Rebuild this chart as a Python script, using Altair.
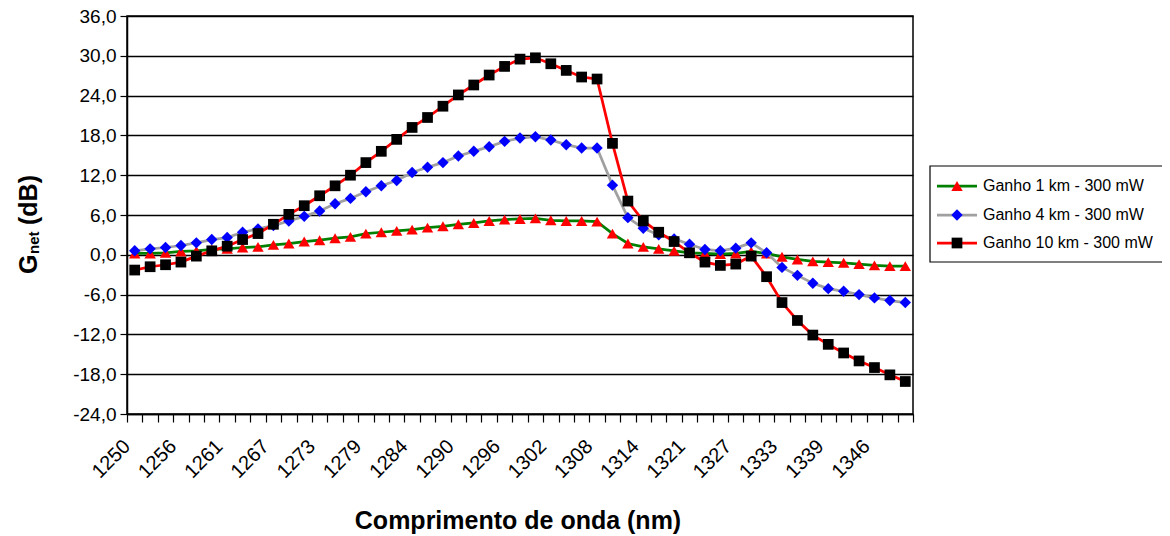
import altair as alt
import pandas as pd

# ---------------- data ----------------
tick_labels = ["1250", "1256", "1261", "1267", "1273", "1279", "1284", "1290", "1296",
               "1302", "1308", "1314", "1321", "1327", "1333", "1339", "1346"]
n_categories = 51

gain_1km = [0.2, 0.2, 0.3, 0.5, 0.6, 0.8, 0.9, 1.1, 1.2, 1.5,
            1.7, 2.0, 2.2, 2.5, 2.7, 3.2, 3.4, 3.6, 3.8, 4.1,
            4.3, 4.6, 4.8, 5.1, 5.3, 5.4, 5.5, 5.2, 5.1, 5.1,
            5.0, 3.2, 1.7, 1.2, 0.9, 0.6, 0.3, 0.2, 0.1, 0.2,
            0.5, 0.2, -0.3, -0.7, -1.0, -1.1, -1.2, -1.4, -1.6, -1.7, -1.7]
gain_4km = [0.6, 0.9, 1.1, 1.4, 1.8, 2.3, 2.6, 3.4, 3.9, 4.4,
            5.1, 5.8, 6.6, 7.7, 8.5, 9.5, 10.4, 11.2, 12.4, 13.2,
            13.9, 14.9, 15.6, 16.3, 17.1, 17.6, 17.8, 17.3, 16.6, 16.1,
            16.1, 10.5, 5.6, 4.0, 3.0, 2.4, 1.6, 0.8, 0.6, 1.0,
            1.8, 0.3, -1.9, -3.1, -4.3, -5.1, -5.5, -6.0, -6.5, -6.9, -7.2]
gain_10km = [-2.3, -1.8, -1.5, -1.1, -0.2, 0.6, 1.3, 2.3, 3.2, 4.6,
             6.1, 7.4, 8.9, 10.4, 12.0, 13.9, 15.6, 17.4, 19.2, 20.7,
             22.4, 24.1, 25.6, 27.1, 28.4, 29.5, 29.7, 28.8, 27.8, 26.8,
             26.5, 16.8, 8.1, 5.1, 3.4, 2.0, 0.3, -1.1, -1.6, -1.4,
             -0.2, -3.3, -7.2, -9.9, -12.1, -13.5, -14.8, -16.0, -17.0, -18.1, -19.1]

series_names = ["Ganho 1 km - 300 mW", "Ganho 4 km - 300 mW", "Ganho 10 km - 300 mW"]
series_values = [gain_1km, gain_4km, gain_10km]
y_ticks = [-24, -18, -12, -6, 0, 6, 12, 18, 24, 30, 36]

# ---------------- style ----------------
line_colors = ["#008000", "#A0A0A0", "#FF0000"]
marker_colors = ["#FF0000", "#0000FF", "#000000"]
marker_shapes = ["triangle-up", "diamond", "square"]
marker_sizes = [130, 130, 115]
FONT = "Liberation Sans"
W, H = 786, 398

label_list = "[" + ",".join("'%s'" % t for t in tick_labels) + "]"
x_tick_values = [float(i) for i in range(n_categories + 1)] + [i + 0.5 for i in range(0, n_categories, 3)]

x_scale = alt.Scale(domain=[0, n_categories], nice=False, zero=False)
y_scale = alt.Scale(domain=[-24, 36], nice=False, zero=False)

x_axis = alt.Axis(
    values=x_tick_values,
    labelExpr="datum.value % 1 != 0 ? " + label_list + "[floor(datum.value / 3)] : ''",
    tickOpacity={"condition": {"test": "datum.value % 1 != 0", "value": 0}, "value": 1},
    labelAngle=-45, labelAlign="right", labelBaseline="middle",
    labelOffset=-8, labelPadding=21, labelOverlap=False, labelFlush=False, labelBound=False,
    tickSize=8, tickColor="black", tickWidth=1.2,
    domainColor="black", domainWidth=1.5,
    labelFont=FONT, labelFontSize=20, labelColor="black",
    grid=False, title=None,
)
y_axis = alt.Axis(
    values=y_ticks,
    labelExpr="datum.value + ',0'",
    tickSize=7, tickColor="black", tickWidth=1.2,
    domainColor="black", domainWidth=1.5,
    labelFont=FONT, labelFontSize=19, labelColor="black", labelPadding=4,
    grid=True, gridColor="black", gridWidth=1.5,
    title=None,
)

layers = []
for i, (name, vals) in enumerate(zip(series_names, series_values)):
    df = pd.DataFrame({
        "pos": [k + 0.5 for k in range(n_categories)],
        "gain": vals,
        "serie": name,
    })
    base = alt.Chart(df).encode(
        x=alt.X("pos:Q", scale=x_scale, axis=x_axis),
        y=alt.Y("gain:Q", scale=y_scale, axis=y_axis),
    )
    layers.append(base.mark_line(color=line_colors[i], strokeWidth=2.75))
    layers.append(base.mark_point(shape=marker_shapes[i], filled=True, color=marker_colors[i],
                                  size=marker_sizes[i], opacity=1, strokeWidth=0))

# ---------------- titles ----------------
one = pd.DataFrame({"t": [""]})
x_title = alt.Chart(pd.DataFrame({"t": ["Comprimento de onda (nm)"]})).mark_text(
    font=FONT, fontSize=25, fontWeight="bold", align="center", baseline="alphabetic", color="black"
).encode(x=alt.value(391), y=alt.value(513), text="t:N")

yt_g = alt.Chart(pd.DataFrame({"t": ["G"]})).mark_text(
    font=FONT, fontSize=25, fontWeight="bold", angle=270, align="left", baseline="middle", color="black"
).encode(x=alt.value(-98), y=alt.value(258), text="t:N")
yt_net = alt.Chart(pd.DataFrame({"t": ["net"]})).mark_text(
    font=FONT, fontSize=15, fontWeight="bold", angle=270, align="left", baseline="middle", color="black"
).encode(x=alt.value(-93), y=alt.value(238), text="t:N")
yt_db = alt.Chart(pd.DataFrame({"t": ["(dB)"]})).mark_text(
    font=FONT, fontSize=25, fontWeight="bold", angle=270, align="left", baseline="middle", color="black"
).encode(x=alt.value(-98), y=alt.value(209), text="t:N")

# ---------------- legend ----------------
legend_box = alt.Chart(one).mark_rect(fill="white", stroke="black", strokeWidth=1.2).encode(
    x=alt.value(803), x2=alt.value(1040), y=alt.value(150), y2=alt.value(246)
)
legend_layers = [legend_box]
row_y = [170, 199, 227]
for i, name in enumerate(series_names):
    ldf = pd.DataFrame({"label": [name]})
    legend_layers.append(alt.Chart(ldf).mark_rule(color=line_colors[i], strokeWidth=2.75).encode(
        x=alt.value(810), x2=alt.value(850), y=alt.value(row_y[i])))
    legend_layers.append(alt.Chart(ldf).mark_point(shape=marker_shapes[i], filled=True,
                                                   color=marker_colors[i], size=marker_sizes[i],
                                                   opacity=1, strokeWidth=0).encode(
        x=alt.value(830), y=alt.value(row_y[i])))
    legend_layers.append(alt.Chart(ldf).mark_text(font=FONT, fontSize=16, align="left",
                                                  baseline="middle", color="black").encode(
        x=alt.value(856), y=alt.value(row_y[i]), text="label:N"))

chart = alt.layer(*layers, x_title, yt_g, yt_net, yt_db, *legend_layers).properties(
    width=W, height=H,
    autosize=alt.AutoSizeParams(type="none"),
    padding={"left": 119, "top": 8, "right": 249, "bottom": 122},
    background="white",
).configure_view(stroke="black", strokeWidth=1.5)

chart.save("out.html", embed_options={"renderer": "svg", "actions": False})
